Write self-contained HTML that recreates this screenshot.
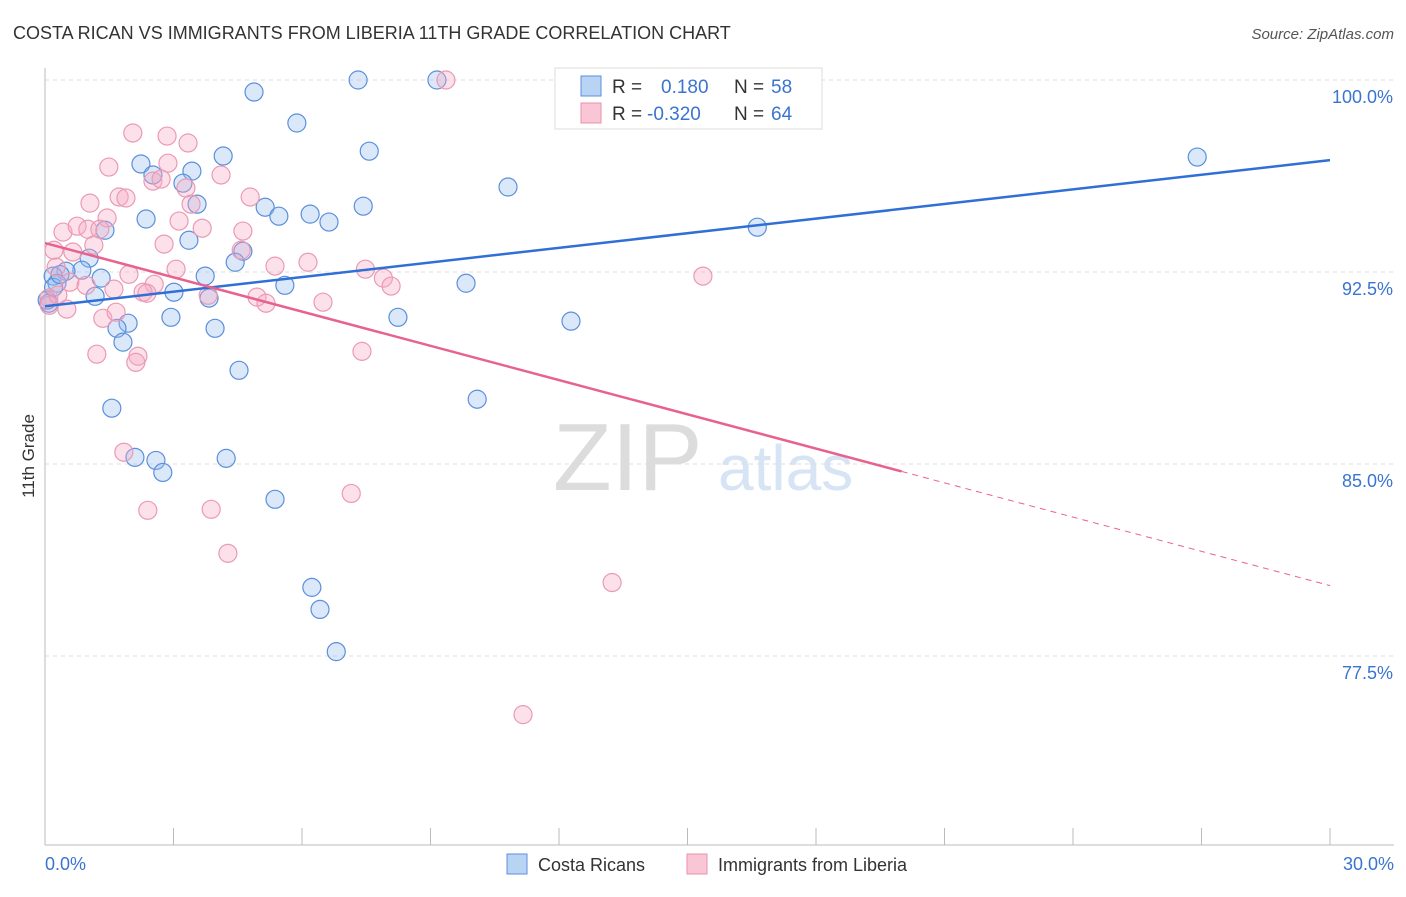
<!DOCTYPE html>
<html><head><meta charset="utf-8"><style>
body{margin:0;background:#fff;font-family:"Liberation Sans",sans-serif;}
svg text{font-family:"Liberation Sans",sans-serif;}
</style></head><body>
<svg id="chart" width="1406" height="892" xmlns="http://www.w3.org/2000/svg">
<text x="13" y="39" font-size="18" fill="#333">COSTA RICAN VS IMMIGRANTS FROM LIBERIA 11TH GRADE CORRELATION CHART</text>
<text x="1394" y="39" font-size="15" fill="#555" text-anchor="end" font-style="italic">Source: ZipAtlas.com</text>
<g>
<text x="553" y="490" font-size="96" fill="#dcdcdc" font-family="Liberation Serif">ZIP</text>
<text x="718" y="490" font-size="64" fill="#d6e4f5">atlas</text>
</g>
<g id="grid"></g>
<line x1="45" y1="68" x2="45" y2="845" stroke="#bbb"/>
<line x1="45" y1="845" x2="1394" y2="845" stroke="#bbb"/>
<text transform="translate(34,456) rotate(-90)" font-size="17" fill="#333" text-anchor="middle">11th Grade</text>
<text x="45" y="870" font-size="18" fill="#3a74d0">0.0%</text>
<text x="1394" y="870" font-size="18" fill="#3a74d0" text-anchor="end">30.0%</text>
<g id="points"></g>
<g id="lines"></g>
<g>
<rect x="555" y="68" width="267" height="61" fill="#fff" stroke="#ddd"/>
<rect x="581" y="76" width="20" height="20" fill="#b9d3f5" stroke="#5b8fdc"/>
<text x="612" y="93" font-size="19" fill="#333">R =</text>
<text x="661" y="93" font-size="19" fill="#3a74d0">0.180</text>
<text x="734" y="93" font-size="19" fill="#333">N =</text>
<text x="771" y="93" font-size="19" fill="#3a74d0">58</text>
<rect x="581" y="103" width="20" height="20" fill="#f8c6d4" stroke="#e890aa"/>
<text x="612" y="120" font-size="19" fill="#333">R =</text>
<text x="647" y="120" font-size="19" fill="#3a74d0">-0.320</text>
<text x="734" y="120" font-size="19" fill="#333">N =</text>
<text x="771" y="120" font-size="19" fill="#3a74d0">64</text>
</g>
<g>
<rect x="507" y="854" width="20" height="20" fill="#b9d3f5" stroke="#5b8fdc"/>
<text x="538" y="871" font-size="18" fill="#333">Costa Ricans</text>
<rect x="687" y="854" width="20" height="20" fill="#f8c6d4" stroke="#e890aa"/>
<text x="718" y="871" font-size="18" fill="#333">Immigrants from Liberia</text>
</g>
</svg>
<script>
const yTicks=[100,92.5,85,77.5];
const yTickLabels=["100.0%","92.5%","85.0%","77.5%"];
const xTicks=[0,3,6,9,12,15,18,21,24,27,30];
const blueX=[7.31,9.15,4.88,5.88,7.57,4.16,2.24,2.52,3.43,3.22,10.81,3.55,5.14,5.46,6.19,7.43,6.63,2.36,1.40,16.63,26.9,3.36,4.62,4.44,1.03,0.86,0.49,0.19,0.28,1.31,3.74,5.60,3.01,1.17,3.83,9.83,0.09,2.94,3.97,1.94,1.68,8.24,12.28,1.82,4.53,10.09,1.56,2.10,2.59,2.75,4.23,5.37,6.23,6.42,6.80,0.05,0.2,0.35];
const blueY=[100,100,99.53,98.32,97.22,97.03,96.72,96.29,96.44,95.97,95.82,95.15,95.03,94.68,94.76,95.07,94.45,94.57,94.13,94.25,96.99,93.74,93.31,92.88,93.04,92.57,92.53,92.34,92.06,92.26,92.34,91.98,91.71,91.55,91.48,92.06,91.28,90.73,90.30,90.50,90.30,90.73,90.58,89.76,88.66,87.53,87.18,85.26,85.14,84.67,85.22,83.62,80.18,79.32,77.67,91.4,91.9,92.4];
const pinkX=[9.36,2.05,2.85,3.34,1.49,2.87,2.52,2.71,3.29,4.11,1.73,1.89,1.05,4.79,3.41,1.45,3.13,3.67,4.62,0.42,0.75,1.00,1.28,1.14,2.78,0.21,0.65,4.58,6.14,5.37,3.06,1.96,7.48,7.90,8.08,15.36,0.26,0.58,0.96,1.61,2.55,2.29,2.38,3.81,4.95,5.16,6.49,0.09,0.51,1.35,1.66,1.21,2.17,2.12,7.40,1.84,2.40,3.88,7.15,4.27,13.24,11.16,0.1,0.3];
const pinkY=[100,97.93,97.81,97.54,96.60,96.75,96.05,96.13,95.78,96.29,95.43,95.39,95.19,95.43,95.15,94.61,94.49,94.21,94.10,94.06,94.29,94.17,94.17,93.55,93.59,93.35,93.28,93.35,92.88,92.73,92.61,92.41,92.61,92.26,91.95,92.34,92.69,92.10,91.98,91.83,92.02,91.71,91.67,91.59,91.52,91.28,91.32,91.48,91.05,90.69,90.93,89.29,89.21,88.97,89.40,85.46,83.19,83.23,83.85,81.51,80.37,75.21,91.2,91.6];
const blueTrend=[91.16,96.87];
const pinkTrend=[93.63,80.25];
const pinkSolidEnd=20;
const NS='http://www.w3.org/2000/svg';
function sx(v){return 45+v/30*1285;}
function sy(v){return 80+(100-v)*25.6;}
function mk(tag,attrs,parent){const e=document.createElementNS(NS,tag);for(const k in attrs)e.setAttribute(k,attrs[k]);parent.appendChild(e);return e;}
const grid=document.getElementById('grid');
yTicks.forEach((t,i)=>{
 const l=mk('line',{x1:45,x2:1394,y1:sy(t),y2:sy(t),stroke:'#ddd','stroke-dasharray':'4,4'},grid);
 
 
 const tx=mk('text',{x:1393,y:sy(t)+23,'font-size':18,fill:'#3a74d0','text-anchor':'end'},grid);
 tx.textContent=yTickLabels[i];
 
 
});
xTicks.forEach(t=>{
 const l=mk('line',{x1:sx(t),x2:sx(t),y1:828,y2:845,stroke:'#bbb'},grid);
 
 
});
const pts=document.getElementById('points');
blueX.forEach((x,i)=>{
 const c=mk('circle',{cx:sx(x),cy:sy(blueY[i]),r:9,fill:'rgba(150,190,240,0.35)',stroke:'#5b8fdc','stroke-width':1.2},pts);
 
 
});
pinkX.forEach((x,i)=>{
 const c=mk('circle',{cx:sx(x),cy:sy(pinkY[i]),r:9,fill:'rgba(245,170,195,0.35)',stroke:'#eb9ab3','stroke-width':1.2},pts);
 
 
});
const lg=document.getElementById('lines');
const bl=mk('line',{x1:sx(0),y1:sy(blueTrend[0]),x2:sx(30),y2:sy(blueTrend[1]),stroke:'#2f6fd6','stroke-width':2.5},lg);


const pAt=x=>pinkTrend[0]+(pinkTrend[1]-pinkTrend[0])*x/30;
const pl=mk('line',{x1:sx(0),y1:sy(pAt(0)),x2:sx(pinkSolidEnd),y2:sy(pAt(pinkSolidEnd)),stroke:'#e8628e','stroke-width':2.5},lg);


const pd=mk('line',{x1:sx(pinkSolidEnd),y1:sy(pAt(pinkSolidEnd)),x2:sx(30),y2:sy(pAt(30)),stroke:'#e8628e','stroke-width':1,'stroke-dasharray':'6,5'},lg);


</script>
</body></html>
